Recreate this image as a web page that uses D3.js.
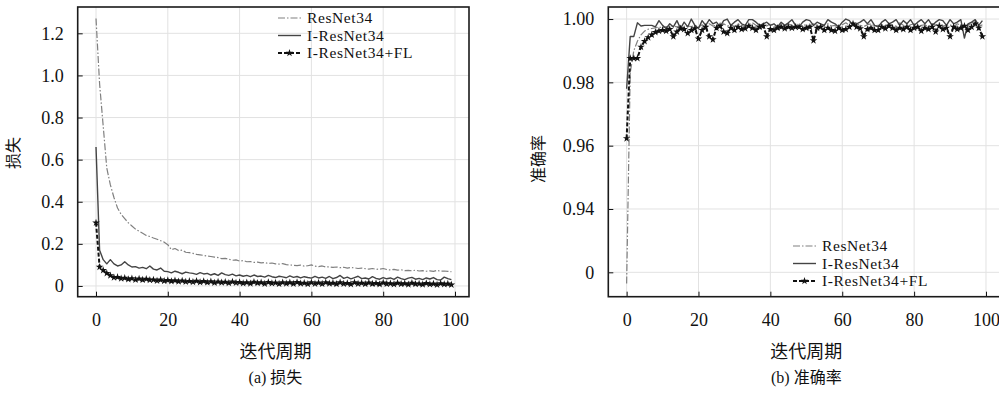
<!DOCTYPE html>
<html>
<head>
<meta charset="utf-8">
<script src="https://cdn.jsdelivr.net/npm/d3@7"></script>
<style>
  body { margin: 0; background: #fff; }
  text { font-family: "Liberation Serif", "Noto Sans CJK SC", serif; fill: #111; }
</style>
</head>
<body>
<svg id="chart" width="999" height="398"></svg>
<script>
// 迭代周期 0..99
const epochs = d3.range(0, 100);
const seriesNames = ["ResNet34", "I-ResNet34", "I-ResNet34+FL"];
const xTicks = [0, 20, 40, 60, 80, 100];
const lossTicks = [0, 0.2, 0.4, 0.6, 0.8, 1.0, 1.2];
const accTicks = [0.92, 0.94, 0.96, 0.98, 1.00];
const accTickLabels = ["0", "0.94", "0.96", "0.98", "1.00"];

// (a) 损失
const resLoss = [1.27, 0.96, 0.76, 0.56, 0.48, 0.42, 0.37, 0.34, 0.32, 0.30,
  0.285, 0.27, 0.26, 0.25, 0.24, 0.235, 0.228, 0.222, 0.215, 0.208,
  0.196, 0.172, 0.178, 0.168, 0.170, 0.160, 0.158, 0.155, 0.150, 0.148,
  0.145, 0.142, 0.140, 0.137, 0.135, 0.130, 0.131, 0.127, 0.122, 0.124,
  0.118, 0.121, 0.115, 0.116, 0.112, 0.113, 0.110, 0.111, 0.107, 0.109,
  0.105, 0.104, 0.106, 0.101, 0.100, 0.098, 0.097, 0.099, 0.094, 0.096,
  0.100, 0.094, 0.092, 0.095, 0.090, 0.091, 0.088, 0.090, 0.087, 0.089,
  0.085, 0.088, 0.086, 0.083, 0.085, 0.082, 0.080, 0.083, 0.079, 0.080,
  0.083, 0.078, 0.076, 0.079, 0.075, 0.077, 0.073, 0.074, 0.072, 0.075,
  0.071, 0.073, 0.070, 0.072, 0.069, 0.074, 0.070, 0.071, 0.069, 0.068];
const iresLoss = [0.66, 0.17, 0.125, 0.105, 0.125, 0.105, 0.095, 0.10, 0.115, 0.10,
  0.09, 0.092, 0.085, 0.088, 0.082, 0.095, 0.08, 0.076, 0.085, 0.07,
  0.068, 0.062, 0.07, 0.065, 0.058, 0.066, 0.062, 0.06, 0.055, 0.063,
  0.057, 0.06, 0.052, 0.058, 0.05, 0.062, 0.054, 0.05, 0.056, 0.048,
  0.052, 0.046, 0.05, 0.044, 0.052, 0.045, 0.047, 0.042, 0.05, 0.044,
  0.04, 0.046, 0.043, 0.039, 0.048, 0.041, 0.045, 0.038, 0.044, 0.04,
  0.037, 0.046, 0.038, 0.042, 0.036, 0.045, 0.035, 0.04, 0.05, 0.036,
  0.042, 0.034, 0.04, 0.046, 0.035, 0.038, 0.033, 0.044, 0.036, 0.032,
  0.04, 0.034, 0.038, 0.031, 0.042, 0.035, 0.03, 0.037, 0.041, 0.032,
  0.036, 0.03, 0.038, 0.033, 0.04, 0.03, 0.028, 0.042, 0.035, 0.03];
const flLoss = [0.30, 0.09, 0.075, 0.06, 0.05, 0.04, 0.042, 0.035, 0.038, 0.032,
  0.036, 0.03, 0.034, 0.029, 0.033, 0.028, 0.03, 0.025, 0.029, 0.024,
  0.027, 0.022, 0.026, 0.021, 0.025, 0.02, 0.023, 0.019, 0.024, 0.018,
  0.022, 0.017, 0.021, 0.015, 0.02, 0.016, 0.019, 0.014, 0.02, 0.015,
  0.018, 0.013, 0.017, 0.012, 0.019, 0.014, 0.016, 0.011, 0.018, 0.013,
  0.015, 0.01, 0.017, 0.012, 0.016, 0.011, 0.018, 0.012, 0.014, 0.009,
  0.016, 0.011, 0.015, 0.01, 0.017, 0.012, 0.014, 0.009, 0.016, 0.011,
  0.013, 0.008, 0.016, 0.011, 0.014, 0.009, 0.015, 0.01, 0.013, 0.008,
  0.015, 0.01, 0.012, 0.008, 0.014, 0.009, 0.012, 0.007, 0.014, 0.009,
  0.011, 0.007, 0.013, 0.008, 0.011, 0.006, 0.012, 0.008, 0.01, 0.006];

// (b) 准确率
const resAcc = [0.9165, 0.983, 0.990, 0.993, 0.995, 0.9962, 0.9968, 0.997, 0.9972, 0.9975,
  0.9972, 0.9976, 0.9974, 0.9978, 0.9975, 0.9978, 0.9972, 0.9978, 0.9976, 0.998,
  0.9975, 0.9982, 0.9976, 0.9985, 0.9978, 0.998, 0.9975, 0.9985, 0.9978, 0.9982,
  0.9976, 0.9985, 0.998, 0.9975, 0.9982, 0.9988, 0.998, 0.9976, 0.9982, 0.9978,
  0.9985, 0.998, 0.9976, 0.9982, 0.9978, 0.9985, 0.998, 0.9988, 0.9976, 0.998,
  0.9982, 0.9978, 0.9985, 0.998, 0.9976, 0.9982, 0.9985, 0.9978, 0.998, 0.9976,
  0.9982, 0.9988, 0.998, 0.9978, 0.9985, 0.998, 0.9976, 0.9982, 0.9985, 0.9978,
  0.998, 0.9982, 0.9976, 0.9985, 0.998, 0.9978, 0.9988, 0.998, 0.9976, 0.9982,
  0.9985, 0.9978, 0.998, 0.9982, 0.9976, 0.9985, 0.998, 0.9988, 0.9978, 0.998,
  0.9982, 0.9976, 0.9985, 0.998, 0.9978, 0.9982, 0.9985, 0.998, 0.9976, 0.9982];
const iresAcc = [0.978, 0.9945, 0.9945, 0.9988, 0.9978, 0.998, 0.998, 0.998, 0.9975, 0.9995,
  0.998, 0.997, 0.9985, 0.9975, 0.9995, 0.997, 0.999, 0.9975, 1.0, 0.998,
  0.997, 0.9995, 0.998, 0.9998, 0.9985, 0.999, 0.9975, 0.9995, 1.0, 0.998,
  0.999, 0.9998, 0.9985, 0.998, 0.9998, 0.9998, 0.999, 0.998, 0.9985, 0.999,
  0.998, 0.9985, 0.9975, 0.999, 0.998, 0.9988, 0.9998, 0.998, 0.9975, 0.999,
  0.9998, 0.9995, 0.998, 0.999, 0.9985, 0.998, 0.9998, 0.999, 0.9985, 0.9975,
  0.999, 1.0, 0.9995, 0.998, 0.9985, 0.999, 0.9998, 0.9985, 0.9998, 0.998,
  0.9975, 0.999, 0.9998, 0.9985, 0.999, 0.9998, 0.998, 0.9995, 0.9985, 0.9998,
  0.998, 0.999, 0.9998, 0.9985, 0.9998, 0.998, 0.999, 0.9998, 0.9995, 0.998,
  0.9998, 0.9985, 0.999, 0.9998, 0.994, 0.9985, 0.999, 0.9998, 0.998, 0.9995];
const flAcc = [0.9623, 0.9876, 0.9876, 0.9876, 0.9912, 0.993, 0.9942, 0.995, 0.9958, 0.9962,
  0.9965, 0.9962, 0.9968, 0.9945, 0.996, 0.997, 0.9968, 0.9955, 0.9965, 0.997,
  0.9938, 0.9965, 0.9975, 0.9945, 0.9935, 0.9972, 0.9978, 0.996, 0.9955, 0.9972,
  0.9965, 0.9975, 0.9968, 0.997, 0.9978, 0.9972, 0.9965, 0.9975, 0.9978, 0.9945,
  0.9968, 0.9965, 0.9972, 0.9975, 0.997, 0.9975, 0.9972, 0.9975, 0.9975, 0.9968,
  0.9972, 0.9975, 0.9932, 0.9972, 0.9975, 0.9965, 0.9972, 0.9965, 0.9962, 0.9972,
  0.9965, 0.9968, 0.9975, 0.9985, 0.9975, 0.997, 0.9945, 0.9968, 0.9972, 0.9965,
  0.9965, 0.9975, 0.997, 0.9978, 0.9972, 0.9965, 0.9972, 0.9968, 0.9975, 0.9965,
  0.9972, 0.9975, 0.9962, 0.9972, 0.9968, 0.9975, 0.996, 0.9978, 0.9968, 0.9972,
  0.9945, 0.9975, 0.9968, 0.9972, 0.9978, 0.9965, 0.9975, 0.9985, 0.9972, 0.9945];

const svg = d3.select("#chart");
const serif = '"Liberation Serif", "Noto Sans CJK SC", serif';

// 線條樣式
const styles = [
  { stroke: "#808080", width: 1.2, dash: "7,2,1.5,2", marker: false },
  { stroke: "#444", width: 1.4, dash: null, marker: false },
  { stroke: "#111", width: 2, dash: "4,2", marker: true }
];

function drawPanel(opt) {
  const x = d3.scaleLinear().domain([-5.1, 103.9]).range([opt.left, opt.right]);
  const y = d3.scaleLinear().domain(opt.yDomain).range([opt.bottom, opt.top]);
  const g = svg.append("g");

  // grid
  g.append("g").selectAll("line").data(xTicks).join("line")
    .attr("x1", d => x(d)).attr("x2", d => x(d))
    .attr("y1", opt.top).attr("y2", opt.bottom)
    .attr("stroke", "#e2e2e2").attr("stroke-width", 1);
  g.append("g").selectAll("line").data(opt.yTicks).join("line")
    .attr("x1", opt.left).attr("x2", opt.right)
    .attr("y1", d => y(d)).attr("y2", d => y(d))
    .attr("stroke", "#e2e2e2").attr("stroke-width", 1);

  // series
  const line = d3.line().x((d, i) => x(epochs[i])).y(d => y(d));
  opt.series.forEach((vals, k) => {
    const s = styles[k];
    g.append("path")
      .attr("d", line(vals))
      .attr("fill", "none")
      .attr("stroke", s.stroke)
      .attr("stroke-width", s.width)
      .attr("stroke-dasharray", s.dash)
      .attr("stroke-linejoin", "round");
    if (s.marker) {
      g.append("g").selectAll("path").data(vals).join("path")
        .attr("transform", (d, i) => `translate(${x(epochs[i])},${y(d)})`)
        .attr("d", d3.symbol(d3.symbolStar, 18))
        .attr("fill", "#111");
    }
  });

  // axes, ticks inward
  const xAxis = d3.axisBottom(x).tickValues(xTicks).tickSizeInner(-5).tickSizeOuter(0).tickPadding(17);
  const gx = g.append("g").attr("transform", `translate(0,${opt.bottom})`).call(xAxis);
  const yAxis = d3.axisLeft(y).tickValues(opt.yTicks).tickFormat(opt.yFormat)
    .tickSizeInner(-5).tickSizeOuter(0).tickPadding(14);
  const gy = g.append("g").attr("transform", `translate(${opt.left},0)`).call(yAxis);
  [gx, gy].forEach(a => {
    a.attr("font-family", null).attr("font-size", null);
    a.select(".domain").remove();
    a.selectAll(".tick line").attr("stroke", "#111");
    a.selectAll("text").style("font-size", "18px").style("font-family", serif).attr("fill", "#111");
  });

  // frame
  g.append("rect")
    .attr("x", opt.left).attr("y", opt.top)
    .attr("width", opt.right - opt.left).attr("height", opt.bottom - opt.top)
    .attr("fill", "none").attr("stroke", "#1a1a1a").attr("stroke-width", 1.6);

  // labels
  g.append("text")
    .attr("transform", `translate(${opt.yLabelX},${opt.yLabelY}) rotate(-90)`)
    .attr("text-anchor", "middle").attr("font-size", 16)
    .text(opt.yLabel);
  g.append("text")
    .attr("x", x(50)).attr("y", 358)
    .attr("text-anchor", "middle").attr("font-size", 18)
    .text("迭代周期");
  g.append("text")
    .attr("x", x(50)).attr("y", 383)
    .attr("text-anchor", "middle").attr("font-size", 16)
    .text(opt.caption);

  // legend
  const lg = g.append("g").attr("transform", `translate(${opt.legendX},${opt.legendY})`);
  seriesNames.forEach((name, k) => {
    const s = styles[k];
    const yy = k * 17.5;
    lg.append("line")
      .attr("x1", 0).attr("x2", 23).attr("y1", yy - 5).attr("y2", yy - 5)
      .attr("stroke", s.stroke).attr("stroke-width", s.width)
      .attr("stroke-dasharray", s.dash);
    if (s.marker) {
      lg.append("path").attr("transform", `translate(11.5,${yy - 5})`)
        .attr("d", d3.symbol(d3.symbolStar, 18)).attr("fill", "#111");
    }
    lg.append("text").attr("x", 29).attr("y", yy)
      .attr("font-size", 15.5).attr("letter-spacing", 0.6).text(name);
  });
}

drawPanel({
  left: 77.7, right: 469, top: 7, bottom: 296.7,
  yDomain: [-0.051, 1.325], yTicks: lossTicks,
  yFormat: d => d === 0 ? "0" : d3.format(".1f")(d),
  series: [resLoss, iresLoss, flLoss],
  yLabel: "损失", yLabelX: 19, yLabelY: 153,
  caption: "(a) 损失",
  legendX: 278, legendY: 23
});

drawPanel({
  left: 608.3, right: 1000, top: 7, bottom: 296.7,
  yDomain: [0.9123, 1.0038], yTicks: accTicks,
  yFormat: (d, i) => accTickLabels[i],
  series: [resAcc, iresAcc, flAcc],
  yLabel: "准确率", yLabelX: 544, yLabelY: 159,
  caption: "(b) 准确率",
  legendX: 793, legendY: 251
});
</script>
</body>
</html>
